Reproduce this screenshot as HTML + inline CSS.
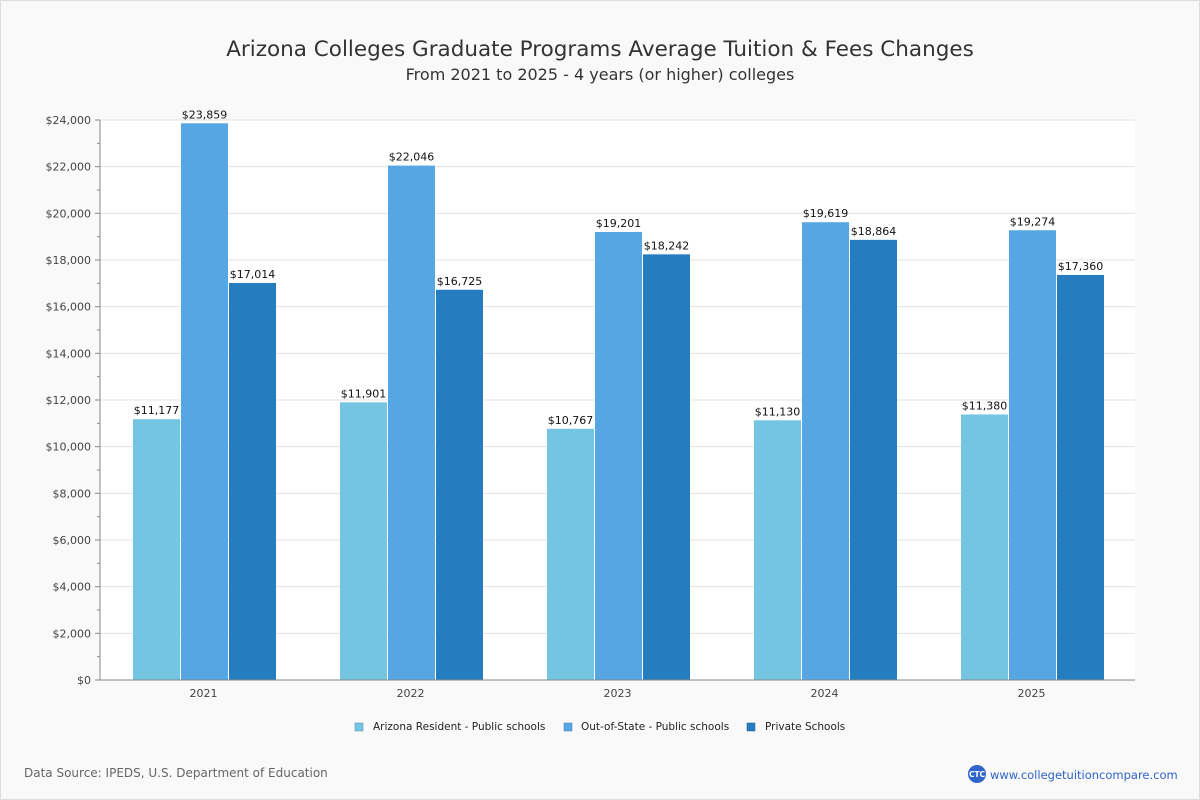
<!DOCTYPE html>
<html><head><meta charset="utf-8"><style>
body{margin:0;background:#fff;}
#wrap{position:relative;width:1198px;height:798px;border:1px solid #ddd;background:#f9f9f9;font-family:"DejaVu Sans","Liberation Sans",sans-serif;}
</style></head><body>
<div id="wrap">
<svg id="chart" width="1198" height="798" style="position:absolute;left:0;top:0">
<text x="599" y="55" text-anchor="middle" font-size="21.5" fill="#333">Arizona Colleges Graduate Programs Average Tuition &amp; Fees Changes</text>
<text x="599" y="79" text-anchor="middle" font-size="16" fill="#333">From 2021 to 2025 - 4 years (or higher) colleges</text>
<rect x="99" y="119" width="1035" height="560" fill="#fff"/>
<g id="grid"></g><g id="bars"></g><g id="axes"></g>
<g font-size="10.5" fill="#222">
<g><rect x="354" y="722" width="8" height="8" fill="#74c5e2" stroke="#4a8fb0" stroke-width="0.5"/><text x="372" y="729">Arizona Resident - Public schools</text></g>
<g><rect x="563" y="722" width="8" height="8" fill="#55a6e3" stroke="#3a7fb5" stroke-width="0.5"/><text x="580" y="729">Out-of-State - Public schools</text></g>
<g><rect x="746" y="722" width="8" height="8" fill="#257dbf" stroke="#1a5f90" stroke-width="0.5"/><text x="764" y="729">Private Schools</text></g>
</g>
<text x="23" y="776" font-size="12" fill="#666">Data Source: IPEDS, U.S. Department of Education</text>
<g>
<circle cx="976" cy="773" r="9" fill="#2f64c8"/><text x="976" y="776" text-anchor="middle" font-size="7.5" fill="#fff" font-weight="bold">CTC</text>
<text x="989" y="778" font-size="11.5" fill="#2f64c8">www.collegetuitioncompare.com</text></g>
</svg>
</div>
<script>
const categories=["2021","2022","2023","2024","2025"];
const resident=[11177,11901,10767,11130,11380];
const outState=[23859,22046,19201,19619,19274];
const privateS=[17014,16725,18242,18864,17360];
const yTicks=[0,2000,4000,6000,8000,10000,12000,14000,16000,18000,20000,22000,24000];
const NS="http://www.w3.org/2000/svg";
const X0=99,X1=1134,Y0=679,Y1=119,YMAX=24000;
const y=v=>Y0-(v/YMAX)*(Y0-Y1);
const gw=(X1-X0)/categories.length;
const xc=i=>X0+gw*(i+0.5);
function mk(t,a,p){const e=document.createElementNS(NS,t);for(const k in a)e.setAttribute(k,a[k]);p.appendChild(e);return e;}
const grid=document.getElementById('grid'),bars=document.getElementById('bars'),axes=document.getElementById('axes');
yTicks.forEach(v=>{
 const l=mk('line',{x1:X0,x2:X1,y1:y(v),y2:y(v),stroke:'#e3e3e3'},grid);
 
 
 const t=mk('text',{x:X0-9,y:y(v)+4,'text-anchor':'end','font-size':11,fill:'#444'},axes);
 t.textContent='$'+v.toLocaleString('en-US');
 
 
 mk('line',{x1:X0-5,x2:X0,y1:y(v),y2:y(v),stroke:'#888'},axes);
 if(v<YMAX)mk('line',{x1:X0-3,x2:X0,y1:y(v+1000),y2:y(v+1000),stroke:'#888'},axes);
});
mk('line',{x1:X0,x2:X0,y1:Y1,y2:Y0,stroke:'#888'},axes);
mk('line',{x1:X0,x2:X1,y1:Y0,y2:Y0,stroke:'#888'},axes);
const series=[[resident,'#74c5e2','resident'],[outState,'#55a6e3','out-of-state'],[privateS,'#257dbf','private']];
const bw=47;
categories.forEach((c,i)=>{
 const t=mk('text',{x:xc(i),y:Y0+17,'text-anchor':'middle','font-size':11,fill:'#444'},axes);
 t.textContent=c;
 
 
 series.forEach((s,j)=>{
  const v=s[0][i];const x=xc(i)+(j-1.5)*(bw+1)+1.5;
  const r=mk('rect',{x:x,y:y(v),width:bw,height:Y0-y(v),fill:s[1]},bars);
  
  
  const lb=mk('text',{x:x+bw/2,y:y(v)-5,'text-anchor':'middle','font-size':11,fill:'#111'},bars);
  lb.textContent='$'+v.toLocaleString('en-US');
  
  
 });
});
</script>
</body></html>
